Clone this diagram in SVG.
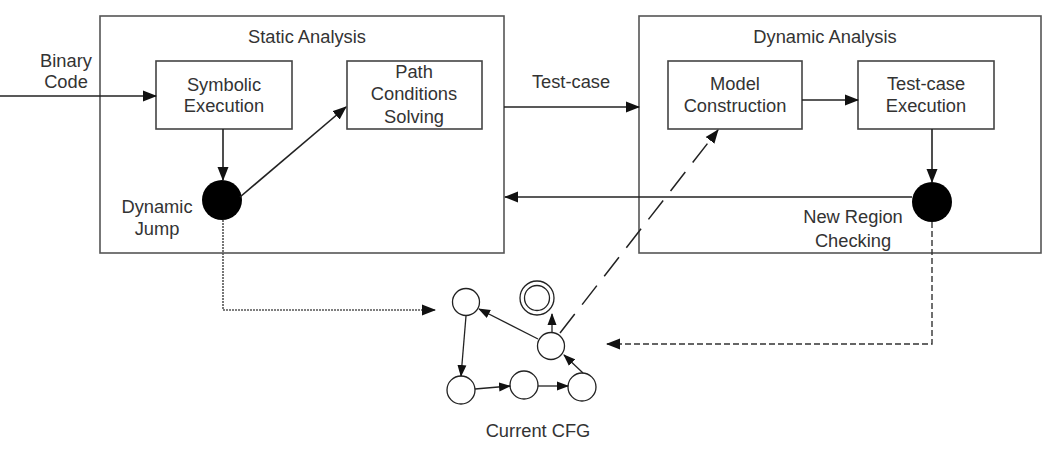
<svg xmlns="http://www.w3.org/2000/svg" width="1042" height="450" viewBox="0 0 1042 450">
<defs>
<style>
text{font-family:"Liberation Sans",Arial,sans-serif;font-size:18.3px;fill:#333;text-anchor:middle}
.box{fill:#fff;stroke:#444;stroke-width:1.6}
.frame{fill:none;stroke:#555;stroke-width:1.6}
.ln{fill:none;stroke:#222;stroke-width:1.6}
.cl{fill:none;stroke:#222;stroke-width:1.3}
.node{fill:#fff;stroke:#222;stroke-width:1.3}
.dash{fill:none;stroke:#222;stroke-width:1.5;stroke-dasharray:24 12}
.sdash{fill:none;stroke:#333;stroke-width:1.4;stroke-dasharray:6 3}
.dot{fill:none;stroke:#555;stroke-width:1.6;stroke-dasharray:2 1}
</style>
<marker id="ah" markerUnits="userSpaceOnUse" markerWidth="14" markerHeight="12" viewBox="0 0 14 12" refX="13" refY="6" orient="auto">
<path d="M0,0.5 L14,6 L0,11.5 Z" fill="#111"/>
</marker>
<marker id="sh" markerUnits="userSpaceOnUse" markerWidth="12" markerHeight="10" viewBox="0 0 12 10" refX="11" refY="5" orient="auto">
<path d="M0,0.5 L12,5 L0,9.5 Z" fill="#111"/>
</marker>
</defs>
<rect width="1042" height="450" fill="#fff"/>

<g id="static-analysis">
<rect class="frame" x="100" y="16" width="404" height="237"/>
<text x="307" y="43">Static Analysis</text>
</g>
<g id="dynamic-analysis">
<rect class="frame" x="639" y="16" width="402" height="237"/>
<text x="825" y="43">Dynamic Analysis</text>
</g>

<g id="binary-code">
<text x="66" y="67">Binary</text>
<text x="66" y="88">Code</text>
</g>
<g id="symbolic-execution">
<rect class="box" x="156" y="61" width="136" height="68"/>
<text x="224" y="91">Symbolic</text>
<text x="224" y="112">Execution</text>
</g>
<g id="path-conditions">
<rect class="box" x="347" y="61" width="135" height="68"/>
<text x="414" y="78">Path</text>
<text x="414" y="100">Conditions</text>
<text x="414" y="123">Solving</text>
</g>
<g id="dynamic-jump">
<circle cx="222" cy="200" r="20" fill="#000"/>
<text x="157" y="213">Dynamic</text>
<text x="157" y="235">Jump</text>
</g>
<g id="model-construction">
<rect class="box" x="668" y="61" width="134" height="68"/>
<text x="735" y="90">Model</text>
<text x="735" y="112">Construction</text>
</g>
<g id="testcase-execution">
<rect class="box" x="858" y="61" width="136" height="68"/>
<text x="926" y="90">Test-case</text>
<text x="926" y="112">Execution</text>
</g>
<g id="new-region">
<circle cx="932" cy="202" r="20" fill="#000"/>
<text x="853" y="223">New Region</text>
<text x="853" y="247">Checking</text>
</g>
<g id="testcase-label">
<text x="571" y="88">Test-case</text>
</g>

<g id="cfg">
<circle id="n1" class="node" cx="466" cy="302" r="13.5"/>
<circle id="n-final-outer" class="node" cx="537" cy="298" r="17"/>
<circle id="n-final-inner" class="node" cx="537" cy="298" r="12.5"/>
<circle id="n3" class="node" cx="551" cy="346" r="13.5"/>
<circle id="n4" class="node" cx="461" cy="390" r="14"/>
<circle id="n5" class="node" cx="524" cy="385" r="14"/>
<circle id="n6" class="node" cx="582" cy="387" r="14"/>
<text x="538" y="437">Current CFG</text>
</g>

<g id="connectors">
<path class="ln" d="M0,96 L156,96" marker-end="url(#ah)"/>
<path class="ln" d="M223,129 L223,180" marker-end="url(#ah)"/>
<path class="ln" d="M240,197 L346,107" marker-end="url(#ah)"/>
<path class="ln" d="M504,107 L639,107" marker-end="url(#ah)"/>
<path class="ln" d="M802,100 L858,100" marker-end="url(#ah)"/>
<path class="ln" d="M932,129 L932,182" marker-end="url(#ah)"/>
<path class="ln" d="M912,197 L505,197" marker-end="url(#ah)"/>
<path class="dash" d="M560,333 L718,130" marker-end="url(#ah)"/>
<path class="dot" d="M223,220 L223,310 L435,310" marker-end="url(#ah)"/>
<path class="sdash" d="M932,222 L932,344 L607,344" marker-end="url(#ah)"/>
<path class="cl" d="M466,316 L461,376" marker-end="url(#sh)"/>
<path class="cl" d="M475,389 L510,386" marker-end="url(#sh)"/>
<path class="cl" d="M538,386 L568,386" marker-end="url(#sh)"/>
<path class="cl" d="M583,373 L564,355" marker-end="url(#sh)"/>
<path class="cl" d="M538,339 L479,309" marker-end="url(#sh)"/>
<path class="cl" d="M552,332 L552,314" marker-end="url(#sh)"/>
</g>
</svg>
